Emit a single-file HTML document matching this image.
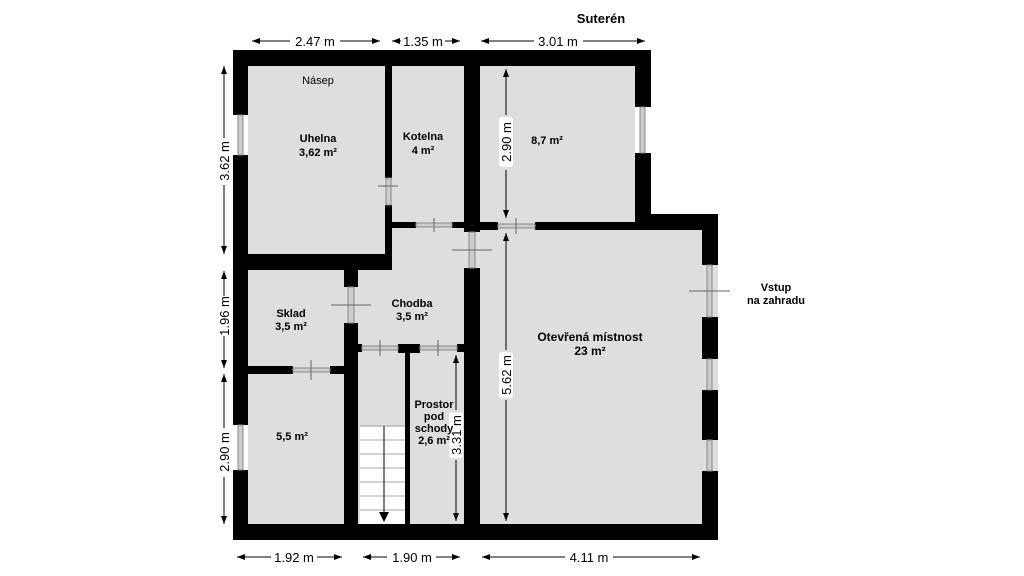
<!DOCTYPE html>
<html><head><meta charset="utf-8"><style>
html,body{margin:0;padding:0;background:#fff;}
svg{display:block;font-family:"Liberation Sans",Arial,sans-serif;}
.b{font-weight:bold;font-size:11px;fill:#000;text-anchor:middle;}
.d{font-size:13px;fill:#000;text-anchor:middle;}
</style></head><body>
<svg width="1024" height="576" viewBox="0 0 1024 576" xmlns="http://www.w3.org/2000/svg">
<defs>
<marker id="a" markerWidth="8" markerHeight="6" refX="8" refY="3" orient="auto"><path d="M0,0 L8,3 L0,6z" fill="#000"/></marker>
</defs>
<g fill="#dedede">
<rect x="248" y="66" width="387" height="160"/>
<rect x="248" y="226" width="470" height="298"/>
<rect x="635" y="230" width="67" height="294"/>
</g>
<rect x="360" y="426" width="45" height="98" fill="#fff"/>
<g stroke="#aaa" stroke-width="1">
<line x1="360" y1="440" x2="405" y2="440"/><line x1="360" y1="454" x2="405" y2="454"/>
<line x1="360" y1="468" x2="405" y2="468"/><line x1="360" y1="482" x2="405" y2="482"/>
<line x1="360" y1="496" x2="405" y2="496"/><line x1="360" y1="510" x2="405" y2="510"/>
<line x1="360" y1="426" x2="405" y2="426" stroke="#999"/>
</g>
<line x1="384" y1="426" x2="384" y2="514" stroke="#000"/>
<path d="M379,512 L389,512 L384,522z" fill="#000"/>
<g fill="#000">
<rect x="233" y="50" width="418" height="16"/>
<rect x="233" y="50" width="15" height="65"/>
<rect x="233" y="155" width="15" height="270"/>
<rect x="233" y="470" width="15" height="70"/>
<rect x="233" y="524" width="485" height="16"/>
<rect x="635" y="50" width="16" height="57"/>
<rect x="635" y="153" width="16" height="77"/>
<rect x="635" y="214" width="83" height="16"/>
<rect x="702" y="214" width="16" height="51"/>
<rect x="702" y="317" width="16" height="42"/>
<rect x="702" y="390" width="16" height="50"/>
<rect x="702" y="471" width="16" height="69"/>
<rect x="385" y="66" width="7" height="112"/>
<rect x="385" y="205" width="7" height="65"/>
<rect x="248" y="254" width="144" height="16"/>
<rect x="392" y="222" width="24" height="6"/>
<rect x="452" y="222" width="28" height="6"/>
<rect x="464" y="66" width="16" height="166"/>
<rect x="464" y="268" width="16" height="256"/>
<rect x="480" y="222" width="18" height="8"/>
<rect x="535" y="222" width="116" height="8"/>
<rect x="344" y="270" width="14" height="17"/>
<rect x="344" y="323" width="14" height="201"/>
<rect x="248" y="366" width="45" height="8"/>
<rect x="330" y="366" width="14" height="8"/>
<rect x="358" y="344" width="4" height="8"/>
<rect x="398" y="344" width="22" height="9"/>
<rect x="457" y="344" width="7" height="8"/>
<rect x="405" y="352" width="5" height="172"/>
</g>
<g fill="#ccc" stroke="#888" stroke-width="1">
<rect x="238" y="115" width="5" height="40"/>
<rect x="238" y="425" width="5" height="45"/>
<rect x="640" y="107" width="5" height="46"/>
<rect x="707" y="265" width="5" height="52"/>
<rect x="707" y="359" width="5" height="31"/>
<rect x="707" y="440" width="5" height="31"/>
<rect x="386" y="178" width="5" height="27"/>
<rect x="416" y="223" width="36" height="4"/>
<rect x="469" y="232" width="6" height="36"/>
<rect x="498" y="224" width="37" height="4"/>
<rect x="348" y="287" width="6" height="36"/>
<rect x="293" y="368" width="37" height="4"/>
<rect x="362" y="346" width="36" height="4"/>
<rect x="420" y="346" width="37" height="4"/>
</g>
<g stroke="#666" stroke-width="1">
<line x1="378" y1="186" x2="398" y2="186"/>
<line x1="434" y1="218" x2="434" y2="232"/>
<line x1="452" y1="250" x2="492" y2="250"/>
<line x1="516" y1="218" x2="516" y2="234"/>
<line x1="331" y1="305" x2="371" y2="305"/>
<line x1="311" y1="360" x2="311" y2="380"/>
<line x1="380" y1="340" x2="380" y2="356"/>
<line x1="438" y1="340" x2="438" y2="356"/>
<line x1="689" y1="291" x2="730" y2="291"/>
</g>
<g stroke="#000" stroke-width="1" fill="none">
<line x1="290" y1="41" x2="252" y2="41" marker-end="url(#a)"/><line x1="340" y1="41" x2="380" y2="41" marker-end="url(#a)"/>
<line x1="401" y1="41" x2="392" y2="41" marker-end="url(#a)"/><line x1="445" y1="41" x2="460" y2="41" marker-end="url(#a)"/>
<line x1="534" y1="41" x2="481" y2="41" marker-end="url(#a)"/><line x1="583" y1="41" x2="645" y2="41" marker-end="url(#a)"/>
<line x1="271" y1="557" x2="237" y2="557" marker-end="url(#a)"/><line x1="317" y1="557" x2="342" y2="557" marker-end="url(#a)"/>
<line x1="387" y1="557" x2="363" y2="557" marker-end="url(#a)"/><line x1="436" y1="557" x2="460" y2="557" marker-end="url(#a)"/>
<line x1="565" y1="557" x2="482" y2="557" marker-end="url(#a)"/><line x1="613" y1="557" x2="700" y2="557" marker-end="url(#a)"/>
<line x1="224" y1="138" x2="224" y2="66" marker-end="url(#a)"/><line x1="224" y1="185" x2="224" y2="254" marker-end="url(#a)"/>
<line x1="224" y1="296" x2="224" y2="271" marker-end="url(#a)"/><line x1="224" y1="336" x2="224" y2="368" marker-end="url(#a)"/>
<line x1="224" y1="428" x2="224" y2="374" marker-end="url(#a)"/><line x1="224" y1="477" x2="224" y2="524" marker-end="url(#a)"/>
<line x1="506" y1="115" x2="506" y2="69" marker-end="url(#a)"/><line x1="506" y1="170" x2="506" y2="218" marker-end="url(#a)"/>
<line x1="506" y1="350" x2="506" y2="233" marker-end="url(#a)"/><line x1="506" y1="400" x2="506" y2="521" marker-end="url(#a)"/>
<line x1="456" y1="410" x2="456" y2="355" marker-end="url(#a)"/><line x1="456" y1="460" x2="456" y2="521" marker-end="url(#a)"/>
</g>
<g class="d">
<text x="315" y="46">2.47 m</text><text x="423" y="46">1.35 m</text><text x="558" y="46">3.01 m</text>
<text x="294" y="562">1.92 m</text><text x="412" y="562">1.90 m</text><text x="589" y="562">4.11 m</text>
<text transform="translate(229,161) rotate(-90)">3.62 m</text>
<text transform="translate(229,316) rotate(-90)">1.96 m</text>
<text transform="translate(229,452) rotate(-90)">2.90 m</text>
</g>
<rect x="499" y="117" width="14" height="50" rx="3" fill="#fff"/>
<text class="d" transform="translate(511,142) rotate(-90)">2.90 m</text>
<rect x="499" y="352" width="14" height="46" rx="3" fill="#fff"/>
<text class="d" transform="translate(511,375) rotate(-90)">5.62 m</text>
<rect x="449" y="412" width="14" height="46" rx="3" fill="#fff"/>
<text class="d" transform="translate(461,435) rotate(-90)">3.31 m</text>
<text x="601" y="23" style="font-weight:bold;font-size:13px" text-anchor="middle">Suterén</text>
<text x="318" y="84" style="font-size:11px" text-anchor="middle">Násep</text>
<text class="b" x="318" y="142">Uhelna</text><text class="b" x="318" y="156">3,62 m²</text>
<text class="b" x="423" y="140">Kotelna</text><text class="b" x="423" y="154">4 m²</text>
<text class="b" x="547" y="144">8,7 m²</text>
<text class="b" x="291" y="317">Sklad</text><text class="b" x="291" y="330">3,5 m²</text>
<text class="b" x="412" y="307">Chodba</text><text class="b" x="412" y="320">3,5 m²</text>
<text class="b" x="292" y="440">5,5 m²</text>
<text class="b" x="434" y="408">Prostor</text><text class="b" x="434" y="420">pod</text>
<text class="b" x="434" y="432">schody</text><text class="b" x="434" y="444">2,6 m²</text>
<text class="b" x="590" y="341" style="font-size:12px">Otevřená místnost</text><text class="b" x="590" y="355" style="font-size:12px">23 m²</text>
<text class="b" x="776" y="291">Vstup</text><text class="b" x="776" y="304">na zahradu</text>
</svg>
</body></html>
